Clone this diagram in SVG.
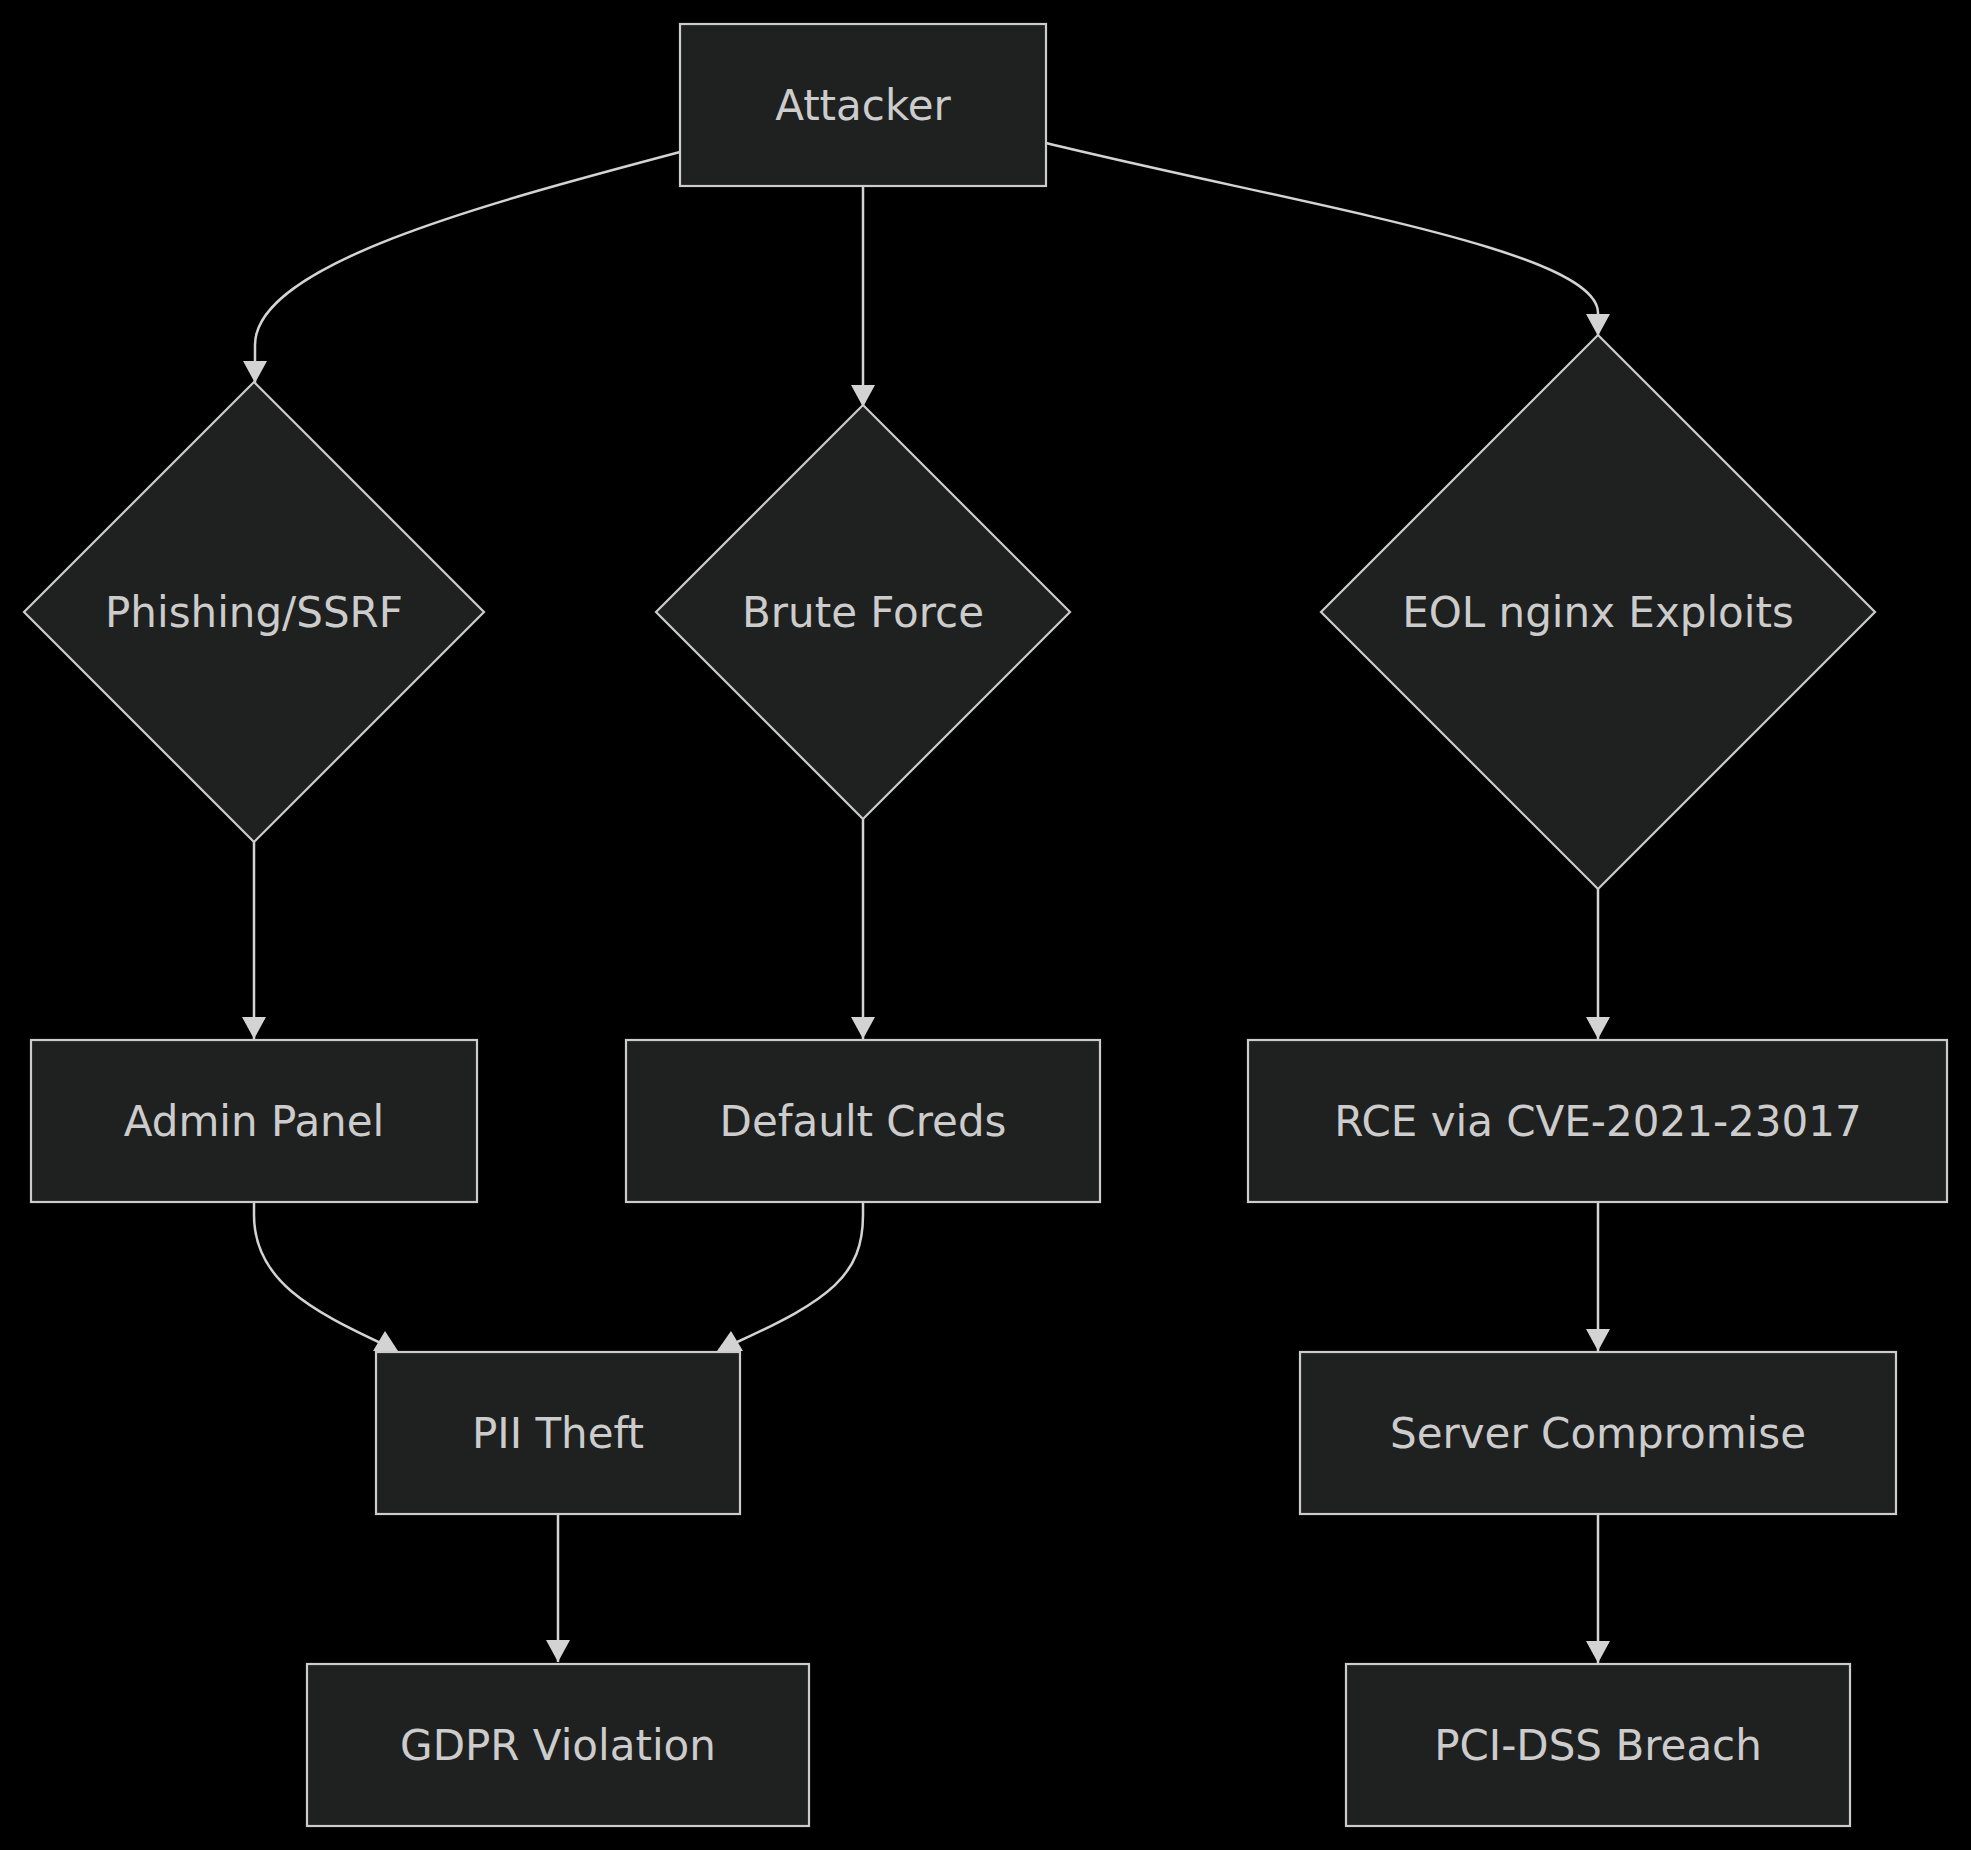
<svg xmlns="http://www.w3.org/2000/svg" width="1971" height="1850" viewBox="0 0 1971 1850">
<defs>
<style>
.bg{fill:#000000}
.node rect,.node polygon{fill:#1f2020;stroke:#cccccc;stroke-width:2.2}
.node text{font-family:"DejaVu Sans",sans-serif;font-size:42px;fill:#cccccc;text-anchor:middle}
.edge{fill:none;stroke:#d3d3d3;stroke-width:2.5}
.head{fill:#d3d3d3}
</style>
<marker id="arr" markerUnits="userSpaceOnUse" markerWidth="24" markerHeight="24" refX="22" refY="12" orient="auto">
<path d="M0,0 L22,12 L0,24 z" fill="#d3d3d3"/>
</marker>
</defs>
<rect class="bg" x="0" y="0" width="1971" height="1850"/>
<g id="connectors">
<path class="edge" d="M680,152 C480,205 255,265 255,345 L255,383" marker-end="url(#arr)"/>
<path class="edge" d="M863,186 L863,407" marker-end="url(#arr)"/>
<path class="edge" d="M1046,143 C1300,205 1598,250 1598,313 L1598,336" marker-end="url(#arr)"/>
<path class="edge" d="M254,842 L254,1039" marker-end="url(#arr)"/>
<path class="edge" d="M863,819 L863,1039" marker-end="url(#arr)"/>
<path class="edge" d="M1598,889 L1598,1039" marker-end="url(#arr)"/>
<path class="edge" d="M254,1202 L254,1215 C254,1280 310,1310 385,1345"/>
<polygon class="head" points="385,1331 398,1351 373,1351"/>
<path class="edge" d="M863,1202 L863,1215 C863,1275 830,1300 735,1343"/>
<polygon class="head" points="731,1331 743,1351 717,1351"/>
<path class="edge" d="M558,1514 L558,1662" marker-end="url(#arr)"/>
<path class="edge" d="M1598,1202 L1598,1351" marker-end="url(#arr)"/>
<path class="edge" d="M1598,1514 L1598,1663" marker-end="url(#arr)"/>
</g>
<g id="attacker" class="node">
<rect x="680" y="24" width="366" height="162"/>
<text x="863" y="120">Attacker</text>
</g>
<g id="phishing" class="node">
<polygon points="254,382 484,612 254,842 24,612"/>
<text x="254" y="627">Phishing/SSRF</text>
</g>
<g id="brute" class="node">
<polygon points="863,405 1070,612 863,819 656,612"/>
<text x="863" y="627">Brute Force</text>
</g>
<g id="eol" class="node">
<polygon points="1598,335 1875,612 1598,889 1321,612"/>
<text x="1598" y="627">EOL nginx Exploits</text>
</g>
<g id="admin" class="node">
<rect x="31" y="1040" width="446" height="162"/>
<text x="254" y="1136">Admin Panel</text>
</g>
<g id="default" class="node">
<rect x="626" y="1040" width="474" height="162"/>
<text x="863" y="1136">Default Creds</text>
</g>
<g id="rce" class="node">
<rect x="1248" y="1040" width="699" height="162"/>
<text x="1598" y="1136">RCE via CVE-2021-23017</text>
</g>
<g id="pii" class="node">
<rect x="376" y="1352" width="364" height="162"/>
<text x="558" y="1448">PII Theft</text>
</g>
<g id="server" class="node">
<rect x="1300" y="1352" width="596" height="162"/>
<text x="1598" y="1448">Server Compromise</text>
</g>
<g id="gdpr" class="node">
<rect x="307" y="1664" width="502" height="162"/>
<text x="558" y="1760">GDPR Violation</text>
</g>
<g id="pci" class="node">
<rect x="1346" y="1664" width="504" height="162"/>
<text x="1598" y="1760">PCI-DSS Breach</text>
</g>
</svg>
